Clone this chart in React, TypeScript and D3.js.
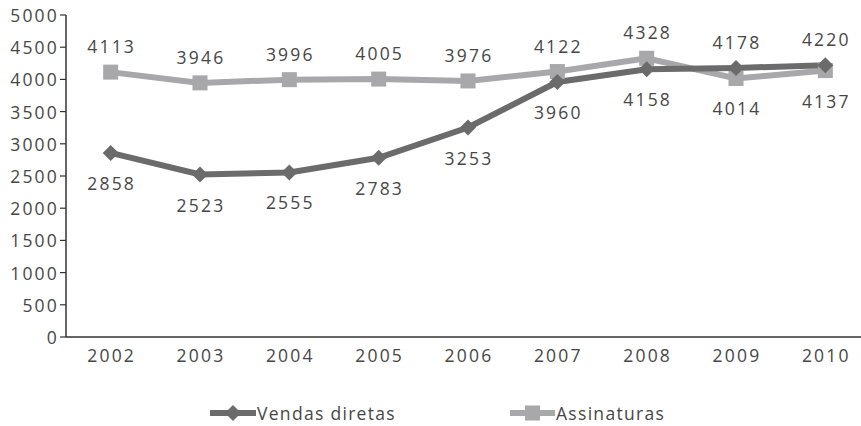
import React from "react";
import * as d3 from "d3";

const years = ["2002", "2003", "2004", "2005", "2006", "2007", "2008", "2009", "2010"];
const vendasDiretas = [2858, 2523, 2555, 2783, 3253, 3960, 4158, 4178, 4220];
const assinaturas = [4113, 3946, 3996, 4005, 3976, 4122, 4328, 4014, 4137];
const yTicks = [0, 500, 1000, 1500, 2000, 2500, 3000, 3500, 4000, 4500, 5000];
const seriesNames = ["Vendas diretas", "Assinaturas"];

const W = 861, H = 426;
const FONT = "'Open Sans', 'DejaVu Sans', sans-serif";
const TEXT = "#474747";
const C_V = "#6b6b6b";
const C_A = "#a8a8aa";
const textProps = {
  fontFamily: FONT,
  fontSize: 17.5,
  fontWeight: 400,
  letterSpacing: 2.2,
  fill: TEXT,
  dominantBaseline: "central" as const,
};

export default function App() {
  const x = d3.scaleBand<string>().domain(years).range([66, 870]);
  const cx = (y: string) => (x(y) as number) + x.bandwidth() / 2;
  const y = d3.scaleLinear().domain([0, 5000]).range([337, 15]);
  const line = d3.line<number>().x((_, i) => cx(years[i])).y((d) => y(d));

  const diamond = (px: number, py: number, r = 8) =>
    `M${px},${py - r}L${px + r},${py}L${px},${py + r}L${px - r},${py}Z`;

  return (
    <svg width={W} height={H} style={{ position: "absolute", left: 0, top: 0, background: "#fff" }}>
      <line x1={66} x2={66} y1={15} y2={337} stroke="#333" strokeWidth={1.5} />
      <line x1={66} x2={870} y1={337} y2={337} stroke="#333" strokeWidth={1.5} />
      {yTicks.map((t) => (
        <g key={t}>
          <line x1={60} x2={66} y1={y(t)} y2={y(t)} stroke="#333" strokeWidth={1.2} />
          <text x={59} y={y(t)} textAnchor="end" {...textProps}>
            {t}
          </text>
        </g>
      ))}
      {years.map((yr) => (
        <text key={yr} x={cx(yr) + 1} y={355} textAnchor="middle" {...textProps}>
          {yr}
        </text>
      ))}
      <path d={line(assinaturas) as string} fill="none" stroke={C_A} strokeWidth={6} />
      <path d={line(vendasDiretas) as string} fill="none" stroke={C_V} strokeWidth={6} />
      {assinaturas.map((v, i) => (
        <rect key={"a" + i} x={cx(years[i]) - 7.5} y={y(v) - 7.5} width={15} height={15} fill={C_A} />
      ))}
      {vendasDiretas.map((v, i) => (
        <path key={"v" + i} d={diamond(cx(years[i]), y(v))} fill={C_V} />
      ))}
      {years.map((yr, i) => {
        const a = assinaturas[i], v = vendasDiretas[i];
        const aAbove = a >= v;
        return (
          <g key={"l" + yr}>
            <text x={cx(yr) + 1} y={y(a) + (aAbove ? -26 : 30)} textAnchor="middle" {...textProps}>
              {a}
            </text>
            <text x={cx(yr) + 1} y={y(v) + (aAbove ? 30 : -26)} textAnchor="middle" {...textProps}>
              {v}
            </text>
          </g>
        );
      })}
      <g>
        <line x1={210} x2={256} y1={413} y2={413} stroke={C_V} strokeWidth={6} />
        <path d={diamond(233, 413, 8)} fill={C_V} />
        <text x={257} y={413} {...textProps} letterSpacing={1.3}>{seriesNames[0]}</text>
        <line x1={510} x2={555} y1={413} y2={413} stroke={C_A} strokeWidth={6} />
        <rect x={525} y={405.5} width={15} height={15} fill={C_A} />
        <text x={556} y={413} {...textProps} letterSpacing={1.3}>{seriesNames[1]}</text>
      </g>
    </svg>
  );
}
